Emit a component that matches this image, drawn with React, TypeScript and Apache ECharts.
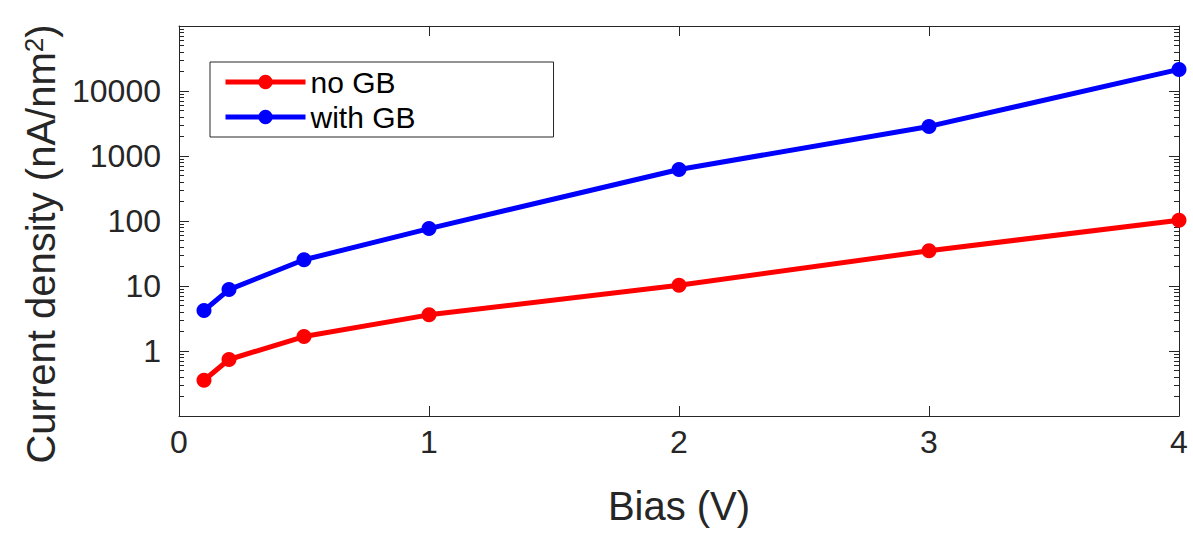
import React, { useEffect, useRef } from "react";
import * as echarts from "echarts";

const biasV = [0.1, 0.2, 0.5, 1, 2, 3, 4];
const noGB = [0.355, 0.74, 1.67, 3.6, 10.3, 34.8, 103];
const withGB = [4.2, 8.8, 25.3, 76.5, 620, 2850, 21500];
const seriesNames = ["no GB", "with GB"];
const xTicks = [0, 1, 2, 3, 4];
const yLabelTicks = [1, 10, 100, 1000, 10000];
const yMajorTicks = [0.1, 1, 10, 100, 1000, 10000, 100000];
const yMinorTicks: number[] = [];
for (const d of [0.1, 1, 10, 100, 1000, 10000]) {
  for (const k of [2, 3, 4, 5, 6, 7, 8, 9]) yMinorTicks.push(+(k * d).toPrecision(3));
}

const AX = "#262626";
const FONT = "'Liberation Sans', Arial, Helvetica, sans-serif";

export default function App() {
  const ref = useRef<HTMLDivElement>(null);
  useEffect(() => {
    if (!ref.current) return;
    const chart = echarts.init(ref.current, undefined, { renderer: "svg" });
    const logBase = {
      type: "log" as const,
      logBase: 10,
      min: 0.1,
      max: 100000,
      splitLine: { show: false },
    };
    const yAxes = [
      {
        ...logBase,
        position: "left",
        name: "{a|Current density (nA/nm}{sup|2}{a|)}",
        nameLocation: "middle",
        nameGap: 108,
        nameTextStyle: {
          padding: [0, 46, 0, 0],
          rich: {
            a: { fontSize: 40, color: AX, fontFamily: FONT },
            sup: { fontSize: 26, color: AX, fontFamily: FONT, verticalAlign: "top" },
          },
        },
        axisLine: { show: true, lineStyle: { color: AX, width: 1 } },
        axisTick: { show: true, inside: true, length: 10, customValues: yMajorTicks, lineStyle: { color: AX } },
        axisLabel: {
          show: true,
          customValues: yLabelTicks,
          margin: 18,
          fontSize: 32,
          color: AX,
          fontFamily: FONT,
          formatter: (v: number) => String(Math.round(v)),
        },
      },
      {
        ...logBase,
        position: "left",
        axisLine: { show: false },
        axisTick: { show: true, inside: true, length: 5, customValues: yMinorTicks, lineStyle: { color: AX } },
        axisLabel: { show: false },
      },
      {
        ...logBase,
        position: "right",
        axisLine: { show: true, lineStyle: { color: AX, width: 1 } },
        axisTick: { show: true, inside: true, length: 10, customValues: yMajorTicks, lineStyle: { color: AX } },
        axisLabel: { show: false },
      },
      {
        ...logBase,
        position: "right",
        axisLine: { show: false },
        axisTick: { show: true, inside: true, length: 5, customValues: yMinorTicks, lineStyle: { color: AX } },
        axisLabel: { show: false },
      },
    ];
    const xBase = { type: "value" as const, min: 0, max: 4, interval: 1, splitLine: { show: false } };
    chart.setOption({
      animation: false,
      textStyle: { fontFamily: FONT },
      grid: { left: 179, top: 26, right: 14, bottom: 117, containLabel: false },
      xAxis: [
        {
          ...xBase,
          position: "bottom",
          name: "Bias (V)",
          nameLocation: "middle",
          nameGap: 70,
          nameTextStyle: { fontSize: 40, color: AX, fontFamily: FONT },
          axisLine: { show: true, lineStyle: { color: AX, width: 1 } },
          axisTick: { show: true, inside: true, length: 10, customValues: xTicks, lineStyle: { color: AX } },
          axisLabel: { show: true, margin: 10, fontSize: 32, color: AX, fontFamily: FONT },
        },
        {
          ...xBase,
          position: "top",
          axisLine: { show: true, lineStyle: { color: AX, width: 1 } },
          axisTick: { show: true, inside: true, length: 10, customValues: xTicks, lineStyle: { color: AX } },
          axisLabel: { show: false },
        },
      ],
      yAxis: yAxes,
      legend: {
        orient: "vertical",
        left: 210,
        top: 62,
        data: seriesNames,
        itemWidth: 80,
        itemHeight: 18,
        itemGap: 5,
        padding: [5, 138, 5, 13],
        borderColor: AX,
        borderWidth: 1,
        backgroundColor: "#ffffff",
        lineStyle: { width: 5 },
        textStyle: { fontSize: 30, color: "#000", fontFamily: FONT },
      },
      series: [
        {
          name: seriesNames[0],
          type: "line",
          xAxisIndex: 0,
          yAxisIndex: 0,
          data: biasV.map((x, i) => [x, noGB[i]]),
          symbol: "circle",
          symbolSize: 15,
          color: "#ff0000",
          lineStyle: { width: 5, color: "#ff0000" },
          itemStyle: { color: "#ff0000" },
        },
        {
          name: seriesNames[1],
          type: "line",
          xAxisIndex: 0,
          yAxisIndex: 0,
          data: biasV.map((x, i) => [x, withGB[i]]),
          symbol: "circle",
          symbolSize: 15,
          color: "#0000ff",
          lineStyle: { width: 5, color: "#0000ff" },
          itemStyle: { color: "#0000ff" },
        },
      ],
    });
    return () => chart.dispose();
  }, []);
  return (
    <div
      ref={ref}
      style={{ position: "fixed", left: 0, top: 0, width: 1193, height: 533, background: "#fff" }}
    />
  );
}
